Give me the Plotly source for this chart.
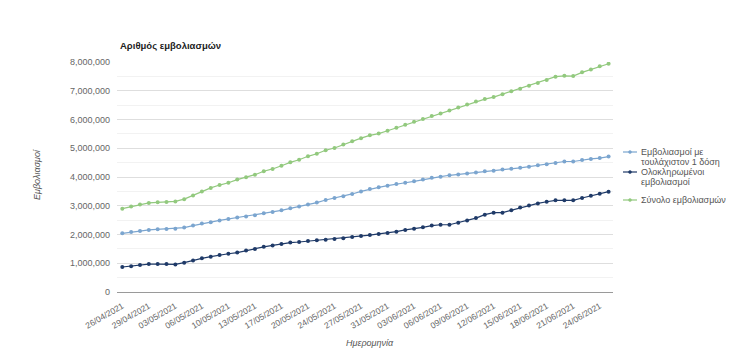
import plotly.graph_objects as go

dates = [
    "26/04/2021", "27/04/2021", "28/04/2021", "29/04/2021", "30/04/2021", "01/05/2021",
    "03/05/2021", "04/05/2021", "05/05/2021", "06/05/2021", "07/05/2021", "08/05/2021",
    "10/05/2021", "11/05/2021", "12/05/2021", "13/05/2021", "14/05/2021", "15/05/2021",
    "17/05/2021", "18/05/2021", "19/05/2021", "20/05/2021", "21/05/2021", "22/05/2021",
    "24/05/2021", "25/05/2021", "26/05/2021", "27/05/2021", "28/05/2021", "29/05/2021",
    "31/05/2021", "01/06/2021", "02/06/2021", "03/06/2021", "04/06/2021", "05/06/2021",
    "06/06/2021", "07/06/2021", "08/06/2021", "09/06/2021", "10/06/2021", "11/06/2021",
    "12/06/2021", "13/06/2021", "14/06/2021", "15/06/2021", "16/06/2021", "17/06/2021",
    "18/06/2021", "19/06/2021", "20/06/2021", "21/06/2021", "22/06/2021", "23/06/2021",
    "24/06/2021", "25/06/2021",
]

# values in millions
first_dose = [
    2.04, 2.09, 2.12, 2.16, 2.18, 2.19, 2.20, 2.24, 2.31, 2.38, 2.43, 2.49, 2.54, 2.59,
    2.63, 2.67, 2.74, 2.78, 2.84, 2.91, 2.97, 3.04, 3.11, 3.20, 3.27, 3.33, 3.41, 3.50,
    3.58, 3.64, 3.70, 3.76, 3.80, 3.85, 3.91, 3.97, 4.01, 4.06, 4.09, 4.12, 4.16, 4.20,
    4.22, 4.26, 4.29, 4.32, 4.36, 4.41, 4.44, 4.49, 4.54, 4.54, 4.59, 4.63, 4.66, 4.71,
]
fully = [
    0.87, 0.90, 0.94, 0.97, 0.97, 0.97, 0.96, 1.02, 1.10, 1.17, 1.23, 1.29, 1.33, 1.37,
    1.44, 1.50, 1.57, 1.62, 1.67, 1.72, 1.74, 1.77, 1.80, 1.82, 1.84, 1.87, 1.91, 1.95,
    1.98, 2.02, 2.05, 2.10, 2.16, 2.20, 2.25, 2.31, 2.34, 2.34, 2.41, 2.49, 2.57, 2.69,
    2.76, 2.76, 2.84, 2.94, 3.01, 3.08, 3.14, 3.19, 3.19, 3.19, 3.27, 3.35, 3.42, 3.49,
]
total = [
    2.90, 2.97, 3.04, 3.10, 3.12, 3.13, 3.15, 3.23, 3.36, 3.50, 3.62, 3.72, 3.80, 3.91,
    3.99, 4.08, 4.20, 4.28, 4.39, 4.51, 4.60, 4.72, 4.81, 4.93, 5.01, 5.13, 5.24, 5.35,
    5.45, 5.51, 5.61, 5.71, 5.82, 5.92, 6.02, 6.12, 6.21, 6.31, 6.42, 6.52, 6.63, 6.71,
    6.78, 6.88, 6.98, 7.07, 7.17, 7.27, 7.37, 7.49, 7.52, 7.51, 7.64, 7.74, 7.85, 7.94,
]

series_names = [
    "Εμβολιασμοί με<br>τουλάχιστον 1 δόση",
    "Ολοκληρωμένοι<br>εμβολιασμοί",
    "Σύνολο εμβολιασμών",
]
series_values = [first_dose, fully, total]
colors = ["#7ba5cf", "#1f3a68", "#92c97e"]

tick_labels = dates[::3]

fig = go.Figure()
for name, vals, col in zip(series_names, series_values, colors):
    fig.add_trace(go.Scatter(
        x=dates, y=[v * 1e6 for v in vals], name=name.replace("<br>", " "),
        mode="lines+markers",
        line=dict(color=col, width=1.2),
        marker=dict(color=col, size=4),
        showlegend=False,
    ))

# plot area in page pixels (reference): left 117, right 613, top 62, bottom 292
PL, PR, PT, PB = 117, 613, 62, 292
PW, PH = PR - PL, PB - PT
OFF = 8  # page body margin offset


def px(xp):
    return (xp - PL) / PW


def py(yp):
    return (PB - yp) / PH


shapes = []
annotations = [
    dict(text="<b>Αριθμός εμβολιασμών</b>", xref="paper", yref="paper",
         x=px(118), y=py(45), xanchor="left", yanchor="middle",
         showarrow=False, font=dict(size=9.5, color="#222222")),
    dict(text="<i>Ημερομηνία</i>", xref="paper", yref="paper",
         x=px(370), y=py(343), xanchor="center", yanchor="middle",
         showarrow=False, font=dict(size=9, color="#555555")),
    dict(text="<i>Εμβολιασμοί</i>", xref="paper", yref="paper",
         x=px(37), y=py(175), xanchor="center", yanchor="middle",
         textangle=-90, showarrow=False, font=dict(size=9, color="#555555")),
]

legend_rows = [152, 172, 200]
LINE_GAP = 9.8
for name, col, yrow in zip(series_names, colors, legend_rows):
    shapes.append(dict(type="line", xref="paper", yref="paper",
                       x0=px(623), x1=px(637), y0=py(yrow), y1=py(yrow),
                       line=dict(color=col, width=1.2)))
    shapes.append(dict(type="circle", xref="paper", yref="paper",
                       x0=px(628.5), x1=px(631.5), y0=py(yrow - 1.5), y1=py(yrow + 1.5),
                       fillcolor=col, line=dict(color=col, width=0.5)))
    for i, part in enumerate(name.split("<br>")):
        annotations.append(dict(text=part, xref="paper", yref="paper",
                                x=px(639), y=py(yrow + i * LINE_GAP),
                                xanchor="left", yanchor="middle",
                                align="left", showarrow=False,
                                font=dict(size=9, color="#555555")))

fig.update_layout(
    width=734, height=361,
    margin=dict(l=PL - OFF, r=734 - PR + OFF, t=PT - OFF, b=361 - PB + OFF, autoexpand=False),
    paper_bgcolor="white", plot_bgcolor="white",
    font=dict(family="Liberation Sans, Arial, sans-serif", size=9, color="#666666"),
    showlegend=False,
    xaxis=dict(
        type="category", range=[-0.6, 55.5],
        tickmode="array", tickvals=tick_labels, ticktext=tick_labels,
        tickangle=-30, tickfont=dict(size=8.5, color="#666666"),
        showgrid=False, showline=True, linecolor="#9a9a9a", linewidth=1,
        ticks="", zeroline=False, ticklabelstandoff=5,
    ),
    yaxis=dict(
        range=[0, 8e6], dtick=1e6, tickformat=",d",
        tickfont=dict(size=9, color="#666666"),
        showgrid=True, gridcolor="#dedede", gridwidth=1,
        minor=dict(dtick=5e5, showgrid=True, gridcolor="#f2f2f2", gridwidth=1),
        zeroline=False, showline=False, ticks="", ticklabelstandoff=6,
    ),
    shapes=shapes,
    annotations=annotations,
)

fig.write_html("out.html")
